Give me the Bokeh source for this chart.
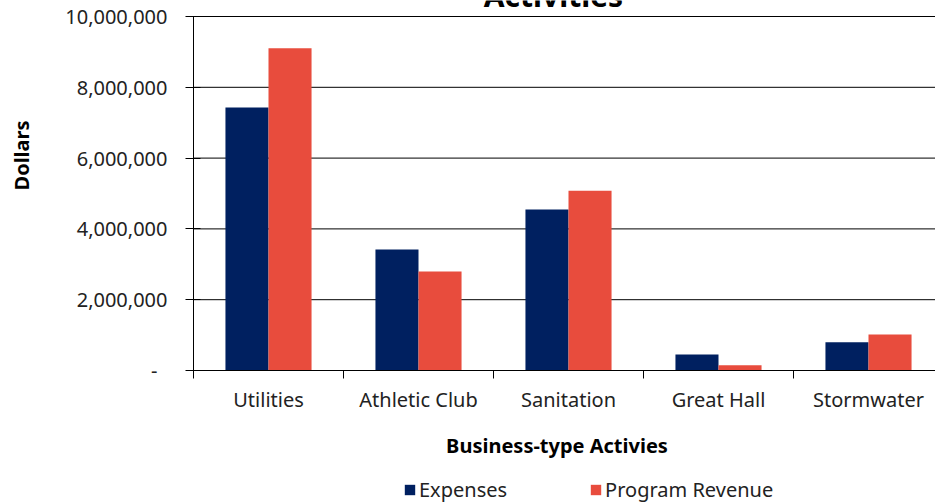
from bokeh.plotting import figure
from bokeh.models import (Range1d, FixedTicker, NumeralTickFormatter, Label,
                          Legend, LegendItem, ColumnDataSource, LinearAxis)
from bokeh.embed import file_html
from bokeh.resources import INLINE
import math

categories = ["Utilities", "Athletic Club", "Sanitation", "Great Hall", "Stormwater"]
expenses = [7430000, 3420000, 4550000, 450000, 800000]
program_revenue = [9100000, 2800000, 5080000, 150000, 1020000]
y_ticks = [0, 2000000, 4000000, 6000000, 8000000, 10000000]

FONT = "Noto Sans"
NAVY = "#002060"
RED = "#E84C3D"
BW = 0.287

W, H = 935, 503
X0, Y0 = 193, 370          # canvas position of the axes origin
CAT_PX = 150               # pixels per category
Y_PX = 354                 # pixels for 10,000,000
YMAX = y_ticks[-1]

n = len(categories)
centers = [i + 0.5 for i in range(n)]
src = ColumnDataSource(dict(
    xe=[c - BW / 2 for c in centers],
    xr=[c + BW / 2 for c in centers],
    exp=expenses,
    rev=program_revenue,
))

x_range = Range1d(-X0 / CAT_PX, (W - X0) / CAT_PX)
y_range = Range1d(-(H - Y0) / Y_PX * YMAX, Y0 / Y_PX * YMAX)

p = figure(width=W, height=H, output_backend="svg", toolbar_location=None,
           x_range=x_range, y_range=y_range,
           min_border=0, x_axis_location=None, y_axis_location=None)
p.outline_line_color = None
p.background_fill_color = "white"
p.border_fill_color = "white"
p.xgrid.visible = False
p.ygrid.visible = False

# horizontal grid lines at the y ticks, over the category span
grid_y = y_ticks[1:]
p.segment(x0=[0] * len(grid_y), x1=[n] * len(grid_y), y0=grid_y, y1=grid_y,
          line_color="black", line_width=1)

r_exp = p.vbar(x="xe", top="exp", width=BW, source=src, fill_color=NAVY, line_color=None)
r_rev = p.vbar(x="xr", top="rev", width=BW, source=src, fill_color=RED, line_color=None)

# x axis
xa = LinearAxis(fixed_location=0, bounds=(0, n))
xa.ticker = FixedTicker(ticks=centers, minor_ticks=list(range(n + 1)))
xa.major_label_overrides = {c: name for c, name in zip(centers, categories)}
xa.major_tick_out = 0
xa.major_tick_in = 0
xa.minor_tick_out = 8
xa.minor_tick_in = 0
xa.minor_tick_line_color = "black"
xa.axis_line_color = "black"
xa.major_label_standoff = 7
xa.major_label_text_font = FONT
xa.major_label_text_font_size = "20px"
xa.major_label_text_color = "#222222"
p.add_layout(xa, "below")

# y axis
ya = LinearAxis(fixed_location=0, bounds=(0, YMAX))
ya.ticker = FixedTicker(ticks=y_ticks)
ya.formatter = NumeralTickFormatter(format="0,0")
ya.major_label_overrides = {0: "-\u2002"}
ya.major_tick_out = 8
ya.major_tick_in = 7
ya.minor_tick_out = 0
ya.minor_tick_in = 0
ya.axis_line_color = "black"
ya.major_tick_line_color = "black"
ya.major_label_standoff = 18
ya.major_label_text_font = FONT
ya.major_label_text_font_size = "20px"
ya.major_label_text_color = "#222222"
p.add_layout(ya, "left")

# title (cut off at the top, as in the reference)
p.add_layout(Label(x=553, y=H + 5.5, x_units="screen", y_units="screen",
                   text="Activities", text_align="center",
                   text_baseline="alphabetic", text_font=FONT, text_font_style="bold",
                   text_font_size="30px", text_color="black"))

# y axis title
p.add_layout(Label(x=21, y=H - 155, x_units="screen", y_units="screen",
                   text="Dollars", angle=math.pi / 2, text_align="center",
                   text_baseline="middle", text_font=FONT, text_font_style="bold",
                   text_font_size="20px", text_color="black"))

# x axis title
p.add_layout(Label(x=556.5, y=H - 445, x_units="screen", y_units="screen",
                   text="Business-type Activies", text_align="center",
                   text_baseline="alphabetic", text_font=FONT, text_font_style="bold",
                   text_font_size="20px", text_color="black"))

legend = Legend(items=[LegendItem(label="Expenses", renderers=[r_exp]),
                       LegendItem(label="Program Revenue", renderers=[r_rev])],
                orientation="horizontal", location=(403, 0),
                padding=0, margin=0, spacing=82, glyph_width=13, glyph_height=13,
                label_standoff=3, label_height=20, border_line_color=None,
                background_fill_alpha=0,
                label_text_font=FONT, label_text_font_size="20px",
                label_text_color="#222222")
p.add_layout(legend, "center")

open("out.html", "w").write(file_html(p, INLINE))
